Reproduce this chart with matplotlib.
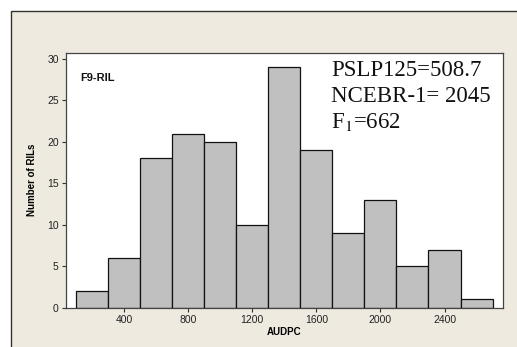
import numpy as np
import matplotlib
matplotlib.use("Agg")
import matplotlib.pyplot as plt
from matplotlib.patches import Rectangle

# histogram of AUDPC in the F9-RIL population
bin_centers = [200, 400, 600, 800, 1000, 1200, 1400, 1600, 1800, 2000, 2200, 2400, 2600]
counts = [2, 6, 18, 21, 20, 10, 29, 19, 9, 13, 5, 7, 1]
x_ticks = [400, 800, 1200, 1600, 2000, 2400]
y_ticks = [0, 5, 10, 15, 20, 25, 30]
notes = ["PSLP125=508.7", "NCEBR-1= 2045", "F$_1$=662"]

plt.rcParams["font.family"] = ["Liberation Sans", "DejaVu Sans"]
plt.rcParams["mathtext.fontset"] = "stix"

fig = plt.figure(figsize=(5.17, 3.47), dpi=100, facecolor="white")
bg = "#EEEAE0"
frame = Rectangle((11 / 517, -0.1), 1.2, 1.1 - 11 / 347,
                  transform=fig.transFigure, facecolor=bg,
                  edgecolor="#333333", linewidth=1.0, zorder=-5)
fig.add_artist(frame)

ax = fig.add_axes([0.127, 0.1133, 0.8465, 0.7347])
ax.set_zorder(1)
ax.set_facecolor("white")
ax.bar(bin_centers, counts, width=200, color="#C0C0C0",
       edgecolor="#111111", linewidth=0.9, zorder=2)

ax.set_xlim(35, 2767)
ax.set_ylim(0, 30.75)
ax.set_xticks(x_ticks)
ax.set_yticks(y_ticks)
ax.tick_params(axis="both", which="major", length=3, width=0.8,
               labelsize=7.5, color="#333333", labelcolor="#222222", pad=2)
for s in ax.spines.values():
    s.set_color("#444444")
    s.set_linewidth(0.9)

ax.set_xlabel("AUDPC", fontsize=7, fontweight="bold", labelpad=2)
ax.set_ylabel("Number of RILs", fontsize=7, fontweight="bold", labelpad=7)

ax.text(0.033, 0.902, "F9-RIL", transform=ax.transAxes, fontsize=8,
        fontweight="bold", va="center", ha="left", color="#111111")

for ypos, s in zip([0.932, 0.828, 0.730], notes):
    ax.text(0.606, ypos, s, transform=ax.transAxes, fontsize=16.5,
            family="Liberation Serif", va="center", ha="left", color="#111111")

fig.savefig("out.png", dpi=100, facecolor=fig.get_facecolor())
